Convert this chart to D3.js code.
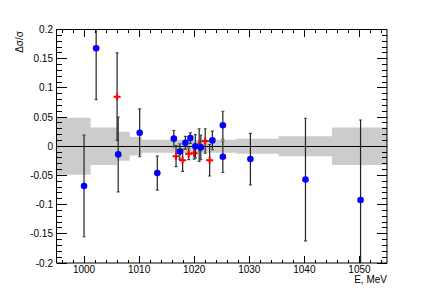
<!DOCTYPE html>
<html>
<head>
<meta charset="utf-8">
<script src="https://cdn.jsdelivr.net/npm/d3@7"></script>
<style>
  html, body { margin: 0; padding: 0; background: #fff; }
  text { font-family: "Liberation Sans", Arial, Helvetica, sans-serif; }
</style>
</head>
<body>
<svg id="chart" width="430" height="293"></svg>
<script>
// systematic band: bin edges (MeV) and half-width
var bandEdges = [995, 1001.2, 1006, 1008.3, 1010.5, 1027.7, 1035.3, 1045, 1055];
var bandHalf  = [0.049, 0.032, 0.025, 0.016, 0.011, 0.013, 0.017, 0.032];

// blue points
var blueE   = [1000.0, 1002.2, 1006.2, 1010.1, 1013.3, 1016.3, 1017.4, 1018.4, 1019.3, 1020.2, 1021.2, 1023.3, 1025.2, 1025.2, 1030.2, 1040.2, 1050.2];
var blueV   = [-0.068, 0.168, -0.014, 0.023, -0.046, 0.013, -0.009, 0.006, 0.014, 0.000, -0.002, 0.010, 0.036, -0.018, -0.022, -0.057, -0.092];
var blueErr = [0.087, 0.088, 0.064, 0.041, 0.029, 0.014, 0.013, 0.011, 0.009, 0.020, 0.021, 0.016, 0.024, 0.027, 0.044, 0.105, 0.137];

// red points
var redE   = [1006.0, 1016.7, 1017.9, 1019.0, 1020.0, 1020.9, 1022.0, 1022.8];
var redV   = [0.085, -0.017, -0.024, -0.013, -0.012, 0.002, 0.009, -0.024];
var redErr = [0.075, 0.018, 0.019, 0.010, 0.010, 0.028, 0.021, 0.027];

var xMajor = [1000, 1010, 1020, 1030, 1040, 1050];
var yMajor = [-0.2, -0.15, -0.1, -0.05, 0, 0.05, 0.1, 0.15, 0.2];
var yLabels = ['-0.2', '-0.15', '-0.1', '-0.05', '0', '0.05', '0.1', '0.15', '0.2'];

var padL = 56.5, padR = 387, padT = 29.5, padB = 263;

var x = d3.scaleLinear().domain([995, 1055]).range([padL, padR]);
var y = d3.scaleLinear().domain([-0.2, 0.2]).range([padB, padT]);

var svg = d3.select('#chart');

svg.append('defs').append('clipPath').attr('id', 'plot-clip')
    .append('rect')
    .attr('x', padL).attr('y', padT)
    .attr('width', padR - padL).attr('height', padB - padT);

var plot = svg.append('g').attr('clip-path', 'url(#plot-clip)');

// band as step area
var bandPts = [];
bandHalf.forEach((h, i) => {
    bandPts.push({ e: bandEdges[i], h: h });
    bandPts.push({ e: bandEdges[i + 1], h: h });
});

plot.append('path')
    .datum(bandPts)
    .attr('fill', '#cccccc')
    .attr('stroke', 'none')
    .attr('d', d3.area()
        .x(d => x(d.e))
        .y0(d => y(-d.h))
        .y1(d => y(d.h)));

// zero line
plot.append('line')
    .attr('x1', padL).attr('x2', padR)
    .attr('y1', y(0)).attr('y2', y(0))
    .attr('stroke', '#000').attr('stroke-width', 1)
    .attr('shape-rendering', 'crispEdges');

function drawSeries(E, V, Err, cls) {
    var data = E.map((e, i) => ({ e: e, v: V[i], err: Err[i] }));
    var g = plot.selectAll('.' + cls).data(data).enter().append('g').attr('class', cls);

    g.append('line')
        .attr('x1', d => x(d.e)).attr('x2', d => x(d.e))
        .attr('y1', d => y(d.v + d.err)).attr('y2', d => y(d.v - d.err))
        .attr('stroke', '#222').attr('stroke-width', 1.2);

    [1, -1].forEach(s => {
        g.append('line')
            .attr('x1', d => x(d.e) - 1.5).attr('x2', d => x(d.e) + 1.5)
            .attr('y1', d => y(d.v + s * d.err)).attr('y2', d => y(d.v + s * d.err))
            .attr('stroke', '#444').attr('stroke-width', 1.2);
    });
    return g;
}

drawSeries(redE, redV, redErr, 'red-pt')
    .append('path')
    .attr('transform', d => `translate(${ x(d.e) }, ${ y(d.v) })`)
    .attr('d', 'M-3.5,-1 H-1 V-3.5 H1 V-1 H3.5 V1 H1 V3.5 H-1 V1 H-3.5 Z')
    .attr('fill', '#ff0000');

drawSeries(blueE, blueV, blueErr, 'blue-pt')
    .append('circle')
    .attr('cx', d => x(d.e)).attr('cy', d => y(d.v))
    .attr('r', 3.3)
    .attr('fill', '#0000ff');

// frame
svg.append('rect')
    .attr('x', padL).attr('y', padT)
    .attr('width', padR - padL).attr('height', padB - padT)
    .attr('fill', 'none').attr('stroke', '#000').attr('stroke-width', 1);

// ticks
var ticks = svg.append('g').attr('stroke', '#000').attr('stroke-width', 1).attr('shape-rendering', 'crispEdges');

var xMinor = d3.range(996, 1055, 2).filter(v => v % 10 !== 0);
xMinor.concat(xMajor).forEach(v => {
    var len = xMajor.indexOf(v) >= 0 ? 7 : 3.5;
    ticks.append('line').attr('x1', x(v)).attr('x2', x(v)).attr('y1', padB).attr('y2', padB - len);
    ticks.append('line').attr('x1', x(v)).attr('x2', x(v)).attr('y1', padT).attr('y2', padT + len);
});

d3.range(-20, 21).forEach(k => {
    var v = k / 100;
    var len = k % 5 === 0 ? 10 : 5;
    ticks.append('line').attr('x1', padL).attr('x2', padL + len).attr('y1', y(v)).attr('y2', y(v));
    ticks.append('line').attr('x1', padR).attr('x2', padR - len).attr('y1', y(v)).attr('y2', y(v));
});

// labels
var labels = svg.append('g').attr('font-size', 10).attr('fill', '#000');

labels.selectAll('.xlab').data(xMajor).enter().append('text')
    .attr('class', 'xlab')
    .attr('x', d => x(d)).attr('y', 273)
    .attr('text-anchor', 'middle')
    .text(d => d);

labels.selectAll('.ylab').data(yMajor).enter().append('text')
    .attr('class', 'ylab')
    .attr('x', 53).attr('y', d => y(d) + 3.5)
    .attr('text-anchor', 'end')
    .text((d, i) => yLabels[i]);

labels.append('text')
    .attr('x', padR).attr('y', 283)
    .attr('text-anchor', 'end')
    .text('E, MeV');

labels.append('text')
    .attr('transform', 'translate(23, 31) rotate(-90)')
    .attr('text-anchor', 'end')
    .text('Δσ/σ');
</script>
</body>
</html>
